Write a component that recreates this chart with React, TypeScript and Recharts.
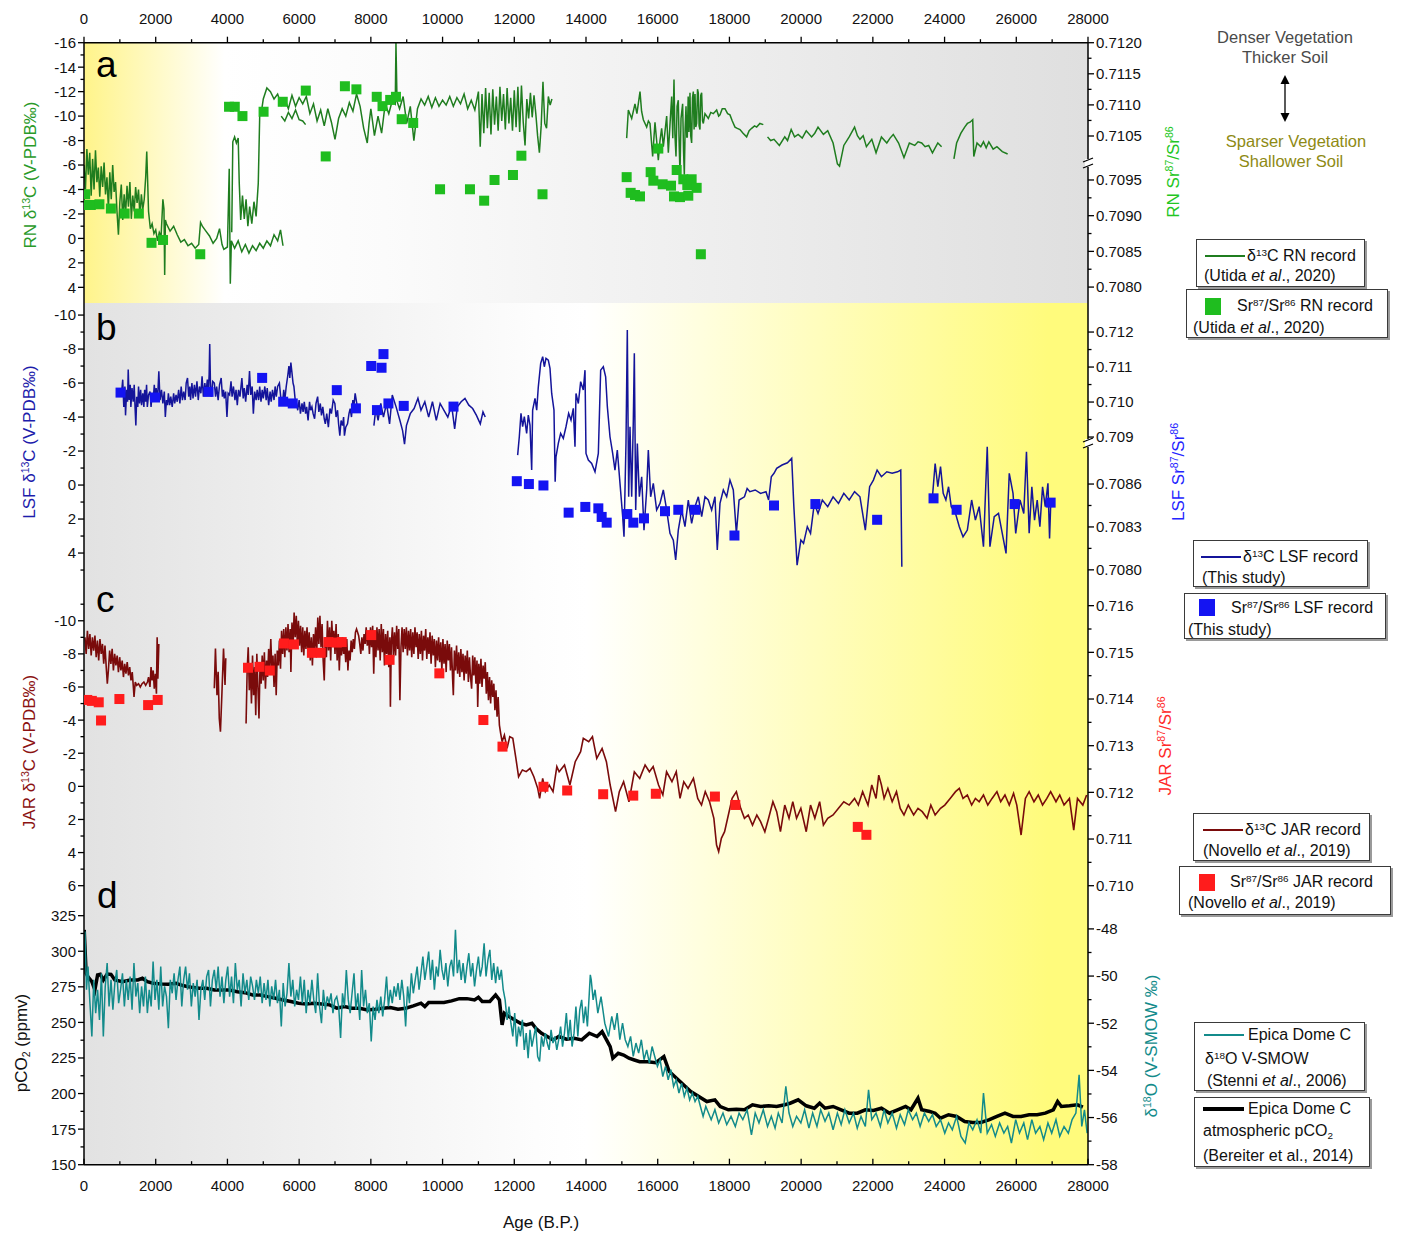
import React from "react";
import {
  ComposedChart,
  Line,
  Scatter,
  XAxis,
  YAxis,
  ReferenceArea,
  ReferenceDot,
} from "recharts";

type P = [number, number];

// ---------- data (age B.P., value) ----------
const ageMajors = [0, 2000, 4000, 6000, 8000, 10000, 12000, 14000, 16000, 18000, 20000, 22000, 24000, 26000, 28000];
const ageMinors = [1000, 3000, 5000, 7000, 9000, 11000, 13000, 15000, 17000, 19000, 21000, 23000, 25000, 27000];

// RN d13C (Utida et al., 2020)
const rnLow: P[] = [[0,-6.0],[40,-4.0],[80,-7.3],[120,-5.2],[160,-7.0],[200,-3.5],[240,-6.5],[280,-4.0],[320,-7.2],[360,-4.6],[400,-5.8],[440,-3.4],[480,-5.9],[520,-4.2],[560,-6.2],[600,-3.6],[640,-5.0],[680,-2.5],[720,-5.4],[760,-3.2],[800,-6.0],[840,-3.8],[880,-4.6],[920,-2.2],[960,-0.3],[1000,-3.0],[1040,-4.4],[1080,-1.5],[1120,-3.6],[1160,-2.0],[1200,-4.3],[1240,-2.6],[1280,-4.6],[1320,-1.6],[1360,-3.5],[1400,-2.2],[1440,-4.2],[1480,-2.9],[1520,-4.0],[1560,-1.8],[1600,-3.6],[1640,-2.4],[1680,-3.2],[1720,-5.0],[1750,-7.1],[1780,-4.2],[1800,-2.2],[1850,-0.8],[1900,-1.2],[1950,-0.4],[2000,-0.7],[2050,0.2],[2100,-0.5],[2150,-0.2],[2200,-3.2],[2230,-2.4],[2250,3.0],[2270,-1.5],[2300,-1.2],[2400,-0.6],[2500,-1.0],[2600,-0.3],[2700,0.3],[2800,0.1],[2900,0.6],[3000,0.4],[3100,0.8],[3200,0.5],[3250,-1.3],[3300,-1.0],[3400,-0.6],[3500,-0.2],[3600,0.4],[3700,0.0],[3780,-0.8],[3850,0.5],[3900,0.9],[4000,0.7],[4050,-5.7],[4080,3.7],[4110,0.2],[4200,0.8],[4300,0.2],[4400,1.1],[4500,0.5],[4600,1.2],[4700,0.6],[4800,1.0],[4900,0.4],[5000,0.8],[5100,0.2],[5200,0.6],[5300,-0.3],[5400,0.2],[5480,-0.7],[5550,0.6]];
const rnHigh: P[] = [[4120,-0.5],[4150,-7.9],[4200,-8.3],[4250,-7.8],[4300,-8.2],[4330,-4.5],[4370,-1.5],[4420,-3.5],[4470,-1.6],[4520,-3.2],[4570,-1.0],[4620,-2.6],[4680,-1.2],[4740,-3.0],[4800,-1.8],[4860,-4.5],[4900,-10.0],[4950,-10.4],[5000,-11.4],[5100,-12.3],[5200,-12.0],[5300,-11.4],[5400,-11.8],[5500,-10.9],[5600,-11.4],[5700,-10.6],[5800,-11.7],[5900,-10.8],[6000,-11.5],[6100,-11.0],[6200,-11.6],[6300,-10.2],[6400,-11.0],[6500,-9.6],[6600,-10.5],[6700,-9.2],[6800,-10.6],[6900,-9.5],[7000,-8.1],[7100,-9.8],[7200,-10.6],[7300,-10.0],[7400,-11.1],[7500,-10.4],[7600,-11.8],[7700,-10.8],[7800,-9.0],[7900,-7.8],[7950,-9.4],[8000,-10.6],[8100,-8.4],[8200,-10.0],[8300,-8.6],[8400,-11.0],[8500,-10.2],[8600,-11.3],[8680,-11.0],[8700,-16.0],[8730,-11.2],[8800,-10.6],[8900,-11.6],[9000,-9.4],[9100,-10.8],[9200,-8.0],[9300,-10.6],[9400,-11.4],[9500,-10.9],[9600,-11.6],[9700,-10.7],[9800,-11.5],[9900,-10.8],[10000,-11.3],[10100,-10.9],[10200,-11.6],[10300,-10.8],[10400,-11.5],[10500,-11.0],[10600,-11.8],[10700,-10.6],[10800,-11.3],[10900,-10.5],[11000,-12.0],[11050,-7.5],[11100,-11.8],[11150,-8.6],[11200,-12.3],[11250,-9.0],[11300,-11.9],[11350,-8.5],[11400,-12.2],[11450,-9.3],[11500,-11.6],[11550,-8.8],[11600,-12.4],[11650,-9.6],[11700,-11.8],[11750,-8.9],[11800,-12.3],[11850,-9.4],[11900,-11.5],[11950,-8.8],[12000,-12.1],[12050,-9.1],[12100,-12.4],[12150,-8.7],[12200,-12.5],[12250,-9.5],[12300,-7.6],[12350,-11.4],[12400,-9.8],[12450,-11.9],[12500,-9.9],[12550,-11.7],[12600,-10.2],[12650,-8.4],[12700,-7.0],[12750,-9.2],[12800,-12.8],[12850,-9.4],[12900,-9.0],[12950,-11.6],[13000,-10.9],[13050,-11.4]];
const rnMid: P[] = [[5500,-10.0],[5600,-9.6],[5700,-10.3],[5800,-9.8],[5900,-10.5],[6000,-9.7],[6100,-9.6],[6180,-9.3]];
const rnGlacialA: P[] = [[15134,-8.2],[15181,-10.5],[15274,-9.8],[15366,-11.0],[15420,-10.2],[15506,-12.0],[15550,-10.4],[15599,-9.7],[15692,-9.1],[15740,-9.6],[15785,-9.4],[15859,-6.7],[15924,-9.5],[15970,-8.0],[16017,-6.4],[16064,-8.0],[16110,-9.0],[16157,-7.5],[16250,-10.0],[16296,-7.0],[16340,-9.2],[16389,-11.6],[16420,-8.2],[16454,-13.0],[16480,-8.5],[16510,-6.7],[16540,-10.8],[16574,-11.3],[16600,-7.5],[16621,-5.3],[16650,-9.8],[16695,-11.0],[16720,-7.2],[16742,-5.2],[16765,-9.0],[16789,-10.8],[16810,-8.3],[16825,-8.3],[16850,-11.6],[16870,-8.7],[16900,-11.9],[16920,-8.4],[16946,-7.8],[16970,-11.5],[16993,-12.0],[17015,-8.9],[17040,-11.8],[17062,-9.1],[17086,-9.4],[17110,-12.2],[17132,-11.9],[17155,-9.2],[17179,-8.9],[17200,-11.7],[17225,-11.9],[17250,-9.6],[17272,-9.4],[17318,-10.2],[17411,-9.8],[17480,-10.3],[17550,-10.2],[17644,-10.5],[17700,-10.0],[17737,-10.1],[17800,-10.6],[17876,-10.6],[17950,-10.2],[18015,-10.1],[18080,-9.6],[18155,-9.1],[18220,-9.0],[18294,-8.9],[18380,-8.6],[18480,-8.3],[18550,-8.8],[18620,-9.0],[18700,-9.2],[18759,-9.1],[18850,-9.4],[18945,-9.3]];
const rnGlacialB: P[] = [[19063,-8.3],[19150,-8.0],[19243,-8.1],[19393,-7.6],[19543,-8.3],[19620,-8.0],[19722,-8.9],[19817,-8.3],[19917,-8.5],[20030,-8.2],[20142,-8.8],[20292,-8.3],[20380,-8.6],[20471,-9.1],[20621,-8.5],[20741,-8.8],[20891,-7.8],[21011,-6.1],[21071,-5.9],[21190,-7.6],[21340,-8.3],[21490,-9.1],[21570,-8.4],[21640,-8.1],[21730,-8.4],[21820,-7.5],[21970,-8.1],[22089,-7.0],[22239,-8.3],[22389,-7.8],[22480,-8.2],[22569,-8.5],[22718,-7.8],[22868,-6.6],[23018,-7.8],[23168,-7.6],[23260,-7.9],[23362,-7.8],[23457,-7.5],[23557,-7.6],[23662,-7.0],[23812,-7.8],[23917,-7.5]];
const rnGlacialC: P[] = [[24261,-6.5],[24336,-7.8],[24456,-8.6],[24561,-9.1],[24636,-9.4],[24710,-9.5],[24785,-9.7],[24815,-6.7],[24905,-7.8],[25010,-7.5],[25085,-7.9],[25160,-7.4],[25235,-7.9],[25355,-7.3],[25460,-7.5],[25610,-7.1],[25759,-6.9]];
// RN Sr87/Sr86
const rnSr: P[] = [[32,0.7093],[40,0.70915],[190,0.70915],[430,0.70916],[750,0.7091],[1134,0.70903],[1530,0.70903],[1883,0.70862],[2204,0.70866],[3242,0.70846],[4045,0.71097],[4205,0.71097],[4419,0.71082],[5008,0.71089],[5543,0.71105],[6185,0.71123],[6741,0.70983],[7276,0.7113],[7597,0.71125],[8164,0.71113],[8325,0.71098],[8539,0.71108],[8700,0.71113],[8860,0.71077],[9181,0.71071],[9930,0.70937],[10764,0.70937],[11160,0.70921],[11449,0.7095],[11963,0.70957],[12198,0.70984],[12787,0.7093],[15134,0.70954],[15245,0.70932],[15366,0.70929],[15506,0.70927],[15803,0.70961],[15878,0.70949],[16017,0.70994],[16138,0.70944],[16371,0.70942],[16454,0.70927],[16529,0.70964],[16621,0.70926],[16714,0.70951],[16825,0.70943],[16853,0.70928],[16946,0.70951],[17086,0.70939],[17203,0.70846]];

// LSF d13C (this study)
const lsfA: P[] = [[1051,-5.5],[1080,-6.2],[1110,-4.6],[1140,-5.8],[1158,-4.1],[1190,-5.6],[1215,-4.9],[1233,-6.8],[1260,-5.0],[1290,-5.9],[1307,-4.6],[1340,-5.7],[1372,-4.9],[1400,-5.9],[1425,-4.5],[1446,-3.5],[1470,-5.2],[1500,-4.6],[1521,-5.8],[1550,-4.8],[1580,-5.6],[1606,-4.7],[1640,-5.4],[1670,-4.6],[1692,-5.6],[1720,-4.9],[1745,-5.9],[1766,-4.6],[1800,-5.3],[1841,-5.5],[1870,-4.6],[1900,-5.4],[1927,-4.9],[1960,-5.9],[1990,-5.0],[2012,-5.7],[2050,-5.0],[2087,-6.7],[2120,-5.0],[2161,-5.6],[2200,-4.8],[2240,-5.5],[2268,-4.0],[2300,-5.0],[2330,-4.7],[2353,-5.4],[2390,-4.7],[2420,-5.2],[2460,-4.6],[2500,-5.4],[2530,-4.8],[2567,-5.3],[2600,-4.9],[2640,-5.6],[2674,-4.8],[2710,-5.8],[2745,-5.0],[2780,-5.5],[2820,-5.0],[2850,-6.0],[2887,-6.3],[2920,-5.2],[2950,-5.8],[2972,-5.0],[3010,-6.0],[3040,-5.1],[3079,-5.9],[3110,-5.2],[3150,-6.1],[3186,-5.0],[3220,-5.8],[3260,-5.4],[3293,-6.4],[3330,-5.2],[3370,-6.0],[3400,-5.4],[3440,-6.2],[3470,-5.5],[3490,-6.5],[3506,-8.3],[3530,-5.6],[3549,-5.2],[3590,-6.1],[3634,-6.0],[3670,-5.2],[3700,-5.8],[3741,-5.0],[3780,-5.9],[3826,-6.3],[3860,-5.2],[3890,-5.6],[3912,-5.1],[3950,-5.5],[3987,-4.0],[4020,-5.4],[4061,-5.3],[4100,-6.1],[4130,-5.2],[4168,-5.8],[4210,-5.0],[4240,-5.6],[4275,-4.7],[4310,-5.6],[4350,-5.2],[4403,-6.3],[4440,-5.1],[4470,-5.7],[4509,-4.9],[4550,-5.9],[4580,-5.3],[4616,-6.7],[4650,-5.3],[4690,-5.8],[4723,-4.2],[4760,-5.5],[4800,-5.0],[4830,-5.6],[4870,-5.0],[4900,-5.8],[4936,-4.9],[4970,-5.6],[5000,-5.1],[5043,-5.8],[5080,-5.0],[5110,-5.7],[5150,-4.7],[5190,-5.5],[5220,-4.9],[5257,-5.6],[5300,-5.0],[5330,-5.8],[5363,-5.2],[5400,-5.8],[5449,-6.0],[5490,-5.1],[5534,-4.7],[5570,-5.6],[5600,-5.0],[5640,-5.8],[5680,-6.4],[5715,-7.0],[5740,-6.3],[5769,-7.2],[5800,-6.6],[5830,-6.0],[5854,-5.8],[5890,-5.0],[5929,-4.8],[5960,-4.4],[6000,-5.0],[6036,-4.2],[6080,-4.8],[6110,-4.3],[6143,-4.9],[6180,-4.2],[6210,-4.6],[6249,-3.8],[6290,-4.9],[6320,-4.4],[6356,-4.6],[6390,-4.2],[6431,-3.9],[6470,-4.8],[6516,-5.2],[6550,-4.3],[6590,-4.8],[6623,-4.1],[6660,-4.6],[6700,-3.9],[6730,-3.6],[6770,-4.2],[6815,-3.4],[6860,-4.5],[6900,-4.2],[6950,-5.0],[6996,-4.8],[7030,-4.0],[7071,-4.4],[7100,-3.6],[7135,-2.9],[7170,-3.8],[7210,-3.5],[7240,-4.0],[7263,-2.9],[7300,-3.4],[7349,-3.6],[7390,-4.2],[7423,-4.5],[7460,-4.0],[7498,-5.0],[7530,-4.7],[7562,-5.4],[7600,-4.9],[7637,-4.4]];
const lsfB: P[] = [[8085,-3.5],[8138,-4.5],[8202,-3.8],[8277,-4.8],[8351,-4.0],[8437,-4.8],[8522,-3.6],[8597,-5.3],[8704,-4.6],[8811,-3.8],[8885,-3.2],[8939,-2.4],[8992,-3.5],[9099,-4.2],[9206,-4.5],[9313,-5.1],[9398,-4.4],[9505,-4.9],[9612,-4.0],[9718,-4.9],[9825,-3.8],[9932,-4.8],[10039,-4.4],[10146,-4.0],[10252,-4.7],[10337,-3.3],[10412,-4.6],[10518,-4.9],[10625,-5.1],[10732,-4.7],[10839,-4.5],[10945,-4.1],[11052,-3.6],[11127,-4.3],[11190,-4.0]];
const lsfC: P[] = [[12094,-1.76],[12140,-2.84],[12187,-4.22],[12233,-3.43],[12280,-4.02],[12345,-3.04],[12391,-4.12],[12438,-3.53],[12485,-0.88],[12512,-4.41],[12578,-5.1],[12625,-4.41],[12670,-5.78],[12736,-7.16],[12792,-7.55],[12838,-6.96],[12884,-7.45],[12949,-7.35],[12996,-6.86],[13043,-5.39],[13107,-4.41],[13140,-0.2],[13163,-1.66],[13228,-2.45],[13293,-3.04],[13367,-2.75],[13442,-3.43],[13516,-4.22],[13582,-3.82],[13646,-4.51],[13693,-2.25],[13721,-5.39],[13786,-4.8],[13851,-6.08],[13925,-5.59],[13972,-6.76],[14000,-1.86],[14065,-1.47],[14158,-1.27],[14251,-0.78],[14344,-1.86],[14409,-6.76],[14483,-6.96],[14548,-6.37],[14595,-4.61],[14669,-2.84],[14744,-1.86],[14808,-0.88],[14873,-2.06],[14948,-0.1],[15023,1.86],[15060,3.04],[15115,-2.45],[15152,-9.12],[15190,0.69],[15227,-3.43],[15274,0.69],[15320,-3.82],[15348,-7.75],[15386,1.47],[15432,-2.45],[15488,0.69],[15553,-0.49],[15617,2.65],[15692,0.29],[15738,-2.06],[15803,0.69],[15877,-0.1],[15970,1.47],[16063,1.08],[16156,0.29],[16250,1.47],[16342,2.84],[16435,3.24],[16501,4.41],[16574,2.65],[16668,1.47],[16760,2.45],[16853,0.88],[16946,2.25],[17040,1.27],[17132,0.69],[17226,1.86],[17318,0.69],[17411,0.88],[17504,1.47],[17597,0.69],[17661,3.82],[17737,1.08],[17830,0.29],[17923,0.69],[18015,-0.29],[18108,0.29],[18194,2.84],[18269,0.88],[18419,0.69],[18494,0.2],[18569,0.39],[18719,0.29],[18869,0.49],[19019,0.39],[19093,0.88],[19168,-0.49],[19243,-0.69],[19318,-0.98],[19468,-1.18],[19618,-1.31],[19737,-1.57],[19797,1.27],[19887,4.71],[19992,3.24],[20067,3.43],[20172,2.45],[20262,2.84],[20367,1.08],[20471,1.67],[20591,0.88],[20741,1.27],[20891,0.69],[21041,1.08],[21190,0.49],[21340,0.88],[21490,0.39],[21640,0.69],[21790,2.65],[21910,0.1],[22015,-0.29],[22119,-0.88],[22239,-0.49],[22389,-0.78],[22539,-0.69],[22689,-0.78],[22778,-0.88],[22808,4.8]];
const lsfD: P[] = [[23662,0.69],[23737,-1.27],[23812,0.1],[23887,-1.08],[23962,0.49],[24036,0.88],[24111,0.1],[24186,1.27],[24306,1.67],[24411,2.45],[24515,3.04],[24635,2.65],[24755,0.88],[24860,2.06],[24965,1.27],[25085,3.63],[25190,-2.25],[25265,3.63],[25385,1.86],[25504,1.67],[25609,2.84],[25714,4.02],[25804,-0.69],[25909,0.49],[25984,2.84],[26104,0.88],[26209,1.67],[26284,-1.96],[26359,2.84],[26434,0.1],[26509,2.06],[26583,0.88],[26658,2.45],[26733,0.1],[26808,1.27],[26883,-0.1],[26928,3.14],[26958,1.27]];
const lsfSr: P[] = [[1019,0.71027],[1980,0.71013],[3474,0.71029],[4968,0.71069],[5555,0.71001],[5822,0.70996],[7050,0.71034],[7583,0.70982],[8010,0.71103],[8170,0.70977],[8298,0.71098],[8352,0.71137],[8490,0.70996],[8917,0.70989],[10305,0.70987],[12070,0.70862],[12407,0.7086],[12813,0.70859],[13516,0.7084],[13981,0.70844],[14344,0.70843],[14437,0.70837],[14577,0.70833],[15152,0.70839],[15320,0.70833],[15617,0.70836],[16203,0.70841],[16574,0.70842],[17040,0.70842],[18140,0.70824],[19243,0.70845],[20397,0.70846],[22119,0.70835],[23692,0.7085],[24336,0.70842],[25954,0.70846],[26958,0.70847]];

// JAR d13C (Novello et al., 2019)
const jarA: P[] = [[27,-9.0],[60,-8.0],[95,-9.4],[130,-8.3],[165,-9.2],[200,-7.9],[235,-9.0],[270,-8.2],[305,-9.1],[340,-7.8],[375,-8.8],[410,-7.6],[445,-8.9],[480,-8.0],[515,-8.6],[550,-7.4],[585,-8.5],[620,-7.2],[650,-6.2],[680,-7.0],[715,-8.2],[750,-7.4],[785,-8.3],[820,-7.0],[855,-8.0],[890,-7.3],[925,-7.9],[960,-6.9],[995,-7.8],[1030,-7.0],[1065,-7.6],[1100,-6.6],[1135,-7.4],[1170,-6.8],[1205,-7.5],[1240,-6.7],[1275,-7.2],[1310,-6.4],[1345,-6.9],[1380,-5.9],[1395,-5.4],[1430,-6.3],[1470,-6.1],[1520,-6.2],[1570,-6.0],[1620,-6.2],[1670,-6.3],[1720,-6.1],[1770,-6.3],[1800,-6.6],[1840,-6.0],[1870,-7.2],[1900,-6.4],[1930,-7.0],[1960,-5.9],[1990,-6.8],[2020,-5.6],[2040,-9.0],[2060,-6.5],[2087,-8.6]];
const jarB: P[] = [[3634,-5.92],[3666,-8.33],[3709,-5.51],[3741,-6.92],[3773,-4.1],[3805,-3.3],[3848,-5.71],[3891,-8.33],[3933,-6.12],[3954,-7.73]];
const jarC: P[] = [[4520,-3.8],[4550,-7.0],[4580,-8.4],[4610,-5.8],[4640,-7.4],[4670,-5.0],[4700,-7.9],[4730,-5.5],[4760,-7.2],[4790,-4.3],[4820,-8.0],[4850,-6.0],[4880,-4.1],[4910,-7.4],[4940,-6.2],[4970,-7.9],[5000,-6.4],[5030,-8.1],[5060,-5.9],[5090,-7.6],[5120,-6.6],[5150,-8.3],[5180,-7.0],[5210,-8.9],[5240,-7.0],[5270,-7.9],[5300,-6.0],[5330,-8.0],[5360,-5.5],[5390,-8.2],[5420,-7.3],[5450,-8.8],[5480,-7.1],[5510,-9.4],[5540,-8.0],[5570,-9.5],[5600,-7.8],[5630,-9.6],[5660,-8.2],[5690,-9.8],[5720,-8.1],[5750,-9.5],[5770,-6.9],[5800,-9.9],[5830,-8.4],[5860,-10.5],[5890,-9.0],[5920,-10.3],[5950,-8.6],[5980,-10.0],[6010,-8.5],[6040,-9.7],[6070,-8.1],[6100,-9.6],[6130,-7.9],[6160,-9.4],[6190,-8.3],[6220,-9.6],[6250,-8.0],[6280,-9.3],[6310,-7.6],[6340,-9.0],[6370,-7.3],[6400,-9.2],[6430,-8.3],[6460,-9.6],[6490,-8.0],[6520,-10.2],[6550,-8.6],[6580,-10.3],[6610,-8.4],[6640,-9.8],[6670,-7.6],[6700,-6.4],[6730,-9.0],[6760,-7.8],[6790,-10.0],[6820,-8.2],[6850,-9.6],[6880,-7.6],[6910,-10.0],[6940,-8.6],[6970,-9.4],[7000,-8.0],[7030,-9.8],[7060,-7.6],[7090,-9.2],[7120,-7.0],[7150,-8.8],[7180,-7.9],[7210,-9.0],[7240,-8.0],[7270,-8.6],[7300,-7.5],[7330,-8.9],[7360,-7.0],[7390,-8.2],[7420,-7.6],[7450,-8.8],[7480,-8.1],[7510,-8.9],[7540,-8.3],[7570,-9.3],[7600,-9.5],[7630,-9.3],[7660,-9.1],[7690,-8.6],[7720,-8.0],[7750,-9.0],[7780,-8.2],[7810,-9.2],[7840,-8.6],[7870,-9.6],[7900,-8.5],[7930,-9.4],[7960,-8.0],[7990,-9.6],[8020,-8.4],[8050,-9.7],[8080,-6.8],[8110,-9.4],[8140,-7.8],[8170,-9.6],[8200,-8.2],[8230,-9.5],[8260,-7.6],[8290,-9.8],[8320,-8.1],[8350,-9.5],[8380,-7.3],[8410,-9.2],[8440,-8.0],[8470,-9.4],[8500,-7.2],[8530,-9.0],[8545,-4.8],[8570,-8.6],[8600,-9.6],[8630,-7.8],[8660,-9.3],[8690,-7.9],[8720,-9.7],[8750,-8.3],[8780,-9.5],[8810,-5.2],[8840,-8.4],[8870,-9.6],[8900,-8.1],[8930,-9.5],[8960,-8.3],[8990,-9.6],[9020,-7.9],[9050,-9.4],[9080,-8.2],[9110,-9.5],[9140,-7.8],[9170,-9.3],[9200,-8.0],[9230,-9.6],[9260,-8.4],[9290,-9.3],[9320,-7.7],[9350,-9.2],[9380,-8.0],[9410,-9.4],[9440,-7.6],[9470,-9.1],[9500,-8.2],[9530,-9.5],[9560,-7.7],[9590,-9.0],[9620,-8.0],[9650,-9.3],[9680,-7.4],[9710,-9.1],[9740,-7.9],[9770,-8.9],[9800,-7.2],[9830,-8.8],[9860,-7.6],[9890,-9.0],[9920,-7.5],[9950,-8.7],[9980,-7.0],[10010,-8.9],[10040,-7.4],[10070,-8.6],[10100,-6.9],[10130,-8.8],[10160,-7.6],[10190,-8.6],[10220,-7.0],[10250,-8.4],[10280,-6.5],[10300,-5.5],[10330,-8.2],[10360,-7.0],[10390,-8.5],[10420,-6.8],[10450,-8.1],[10480,-6.6],[10510,-8.3],[10540,-6.9],[10570,-8.0],[10600,-6.4],[10630,-7.9],[10660,-6.8],[10690,-8.2],[10720,-6.3],[10750,-7.8],[10780,-6.6],[10810,-5.9],[10840,-7.9],[10870,-6.7],[10900,-7.8],[10930,-6.2],[10960,-7.6],[10980,-4.8],[11010,-7.4],[11040,-6.2],[11070,-7.7],[11100,-6.0],[11130,-7.3],[11160,-6.5],[11190,-7.5],[11220,-5.6],[11250,-6.9],[11280,-5.2],[11310,-6.6],[11340,-5.0],[11370,-6.4],[11400,-5.4],[11430,-6.2],[11460,-4.6],[11490,-5.8],[11520,-4.2],[11550,-5.4],[11585,-3.7],[11620,-3.2],[11660,-2.7],[11724,-3.1],[11799,-2.29],[11874,-3.0],[11959,-2.9],[12045,-1.69],[12120,-0.58],[12226,-0.99],[12333,-0.89],[12440,-1.09],[12546,-0.58],[12653,0.12],[12707,0.72],[12792,-0.48],[12867,0.32],[12974,-0.08],[13081,0.32],[13187,-1.19],[13251,-0.88],[13401,-1.29],[13551,-0.08],[13700,-1.49],[13850,-2.09],[13925,-2.9],[14075,-2.7],[14180,-3.0],[14300,-1.69],[14449,-2.29],[14569,-1.49],[14674,-0.08],[14824,1.53],[14929,0.32],[15049,-0.28],[15198,0.93],[15348,-0.88],[15498,-0.48],[15648,-1.29],[15768,-0.88],[15873,-1.19],[16023,-0.08],[16143,0.52],[16247,-0.88],[16397,-0.28],[16517,-0.88],[16622,0.73],[16727,-0.28],[16846,0.12],[16996,-0.48],[17116,0.73],[17221,1.13],[17326,0.32],[17446,0.93],[17566,1.93],[17641,3.54],[17700,3.94],[17775,3.14],[17865,2.74],[17970,1.73],[18075,0.73],[18194,0.32],[18314,1.33],[18419,1.93],[18524,1.73],[18644,2.34],[18764,1.73],[18869,2.13],[18988,2.74],[19093,1.93],[19213,0.93],[19318,1.53],[19423,2.74],[19543,1.13],[19662,1.93],[19767,0.93],[19872,1.93],[19992,1.33],[20142,2.74],[20262,1.13],[20382,1.93],[20516,0.93],[20621,2.34],[20741,1.93],[20891,1.73],[21041,1.33],[21190,0.93],[21340,1.13],[21490,0.73],[21595,1.13],[21715,0.32],[21790,0.73],[21865,1.13],[21970,-0.08],[22089,0.73],[22164,-0.68],[22239,-0.08],[22314,0.73],[22419,0.12],[22539,0.93],[22659,0.32],[22763,1.33],[22868,1.73],[22988,1.13],[23138,1.73],[23258,1.33],[23378,1.53],[23512,1.93],[23617,1.13],[23737,1.73],[23887,1.33],[24006,1.13],[24156,0.73],[24306,0.32],[24411,0.12],[24515,0.73],[24635,0.52],[24755,1.13],[24860,0.73],[24965,0.93],[25085,0.52],[25205,1.13],[25325,0.73],[25460,0.32],[25565,0.93],[25684,0.52],[25804,1.13],[25924,0.42],[26014,1.13],[26134,2.94],[26254,0.73],[26359,0.32],[26493,0.93],[26613,0.52],[26733,1.13],[26853,0.73],[26958,0.32],[27107,0.93],[27212,0.52],[27332,1.13],[27482,0.73],[27602,2.64],[27707,0.73],[27856,1.13],[27961,0.52]];
const jarSr: P[] = [[91,0.71398],[219,0.71396],[411,0.71393],[475,0.71354],[987,0.714],[1788,0.71387],[2055,0.71398],[4574,0.71467],[4894,0.71469],[5182,0.71461],[5577,0.71519],[5854,0.71517],[6356,0.71499],[6602,0.71499],[6815,0.71522],[7050,0.71521],[7188,0.71522],[8010,0.71537],[8522,0.71484],[9910,0.71455],[11138,0.71355],[11671,0.71298],[12813,0.71212],[13475,0.71204],[14479,0.71196],[15318,0.71193],[15947,0.71197],[17595,0.71191],[18164,0.71173],[21580,0.71126],[21820,0.71109]];

// Epica Dome C atmospheric pCO2 (Bereiter et al., 2014)
const pco2: P[] = [[6,315],[59,284.5],[112,282],[219,278.6],[304,272.8],[379,283.3],[454,283.8],[539,279.8],[646,284],[753,283.8],[860,279.8],[1073,278.6],[1286,279.8],[1500,279.8],[1628,281],[1767,278.6],[1927,277.5],[2141,277],[2353,276.8],[2567,277.5],[2780,275.7],[2994,274.7],[3207,274],[3421,274],[3634,272.8],[3848,272.8],[4061,272.8],[4275,271.6],[4488,270.9],[4702,269.3],[4915,269.3],[5129,268.1],[5342,267],[5555,265.8],[5769,264.7],[5982,263.5],[6196,263],[6409,263.5],[6623,263],[6836,262.4],[7049,260],[7263,261.1],[7476,260],[7690,260],[7903,258.8],[8117,259.3],[8330,260],[8543,260.5],[8757,259.3],[8971,260],[9184,261.6],[9398,263.5],[9505,261.1],[9612,264],[9825,264],[10039,264],[10252,265.1],[10466,266.7],[10679,266.7],[10892,265.8],[10999,267.6],[11105,264.7],[11318,264.7],[11479,269.3],[11585,265.8],[11660,248.3],[11724,256.4],[11852,254.1],[12013,251.7],[12173,249.4],[12333,248.3],[12493,249.4],[12600,245.9],[12760,242.4],[12920,240.1],[13081,237.7],[13241,240.1],[13454,238.2],[13668,238.9],[13881,237.7],[14094,242.4],[14308,240.1],[14449,243.5],[14674,233],[14749,224.8],[14899,228.3],[15049,227.1],[15198,224.8],[15348,223.6],[15498,222.4],[15723,222.4],[15947,221.7],[16172,226],[16322,215.5],[16472,212],[16622,208.5],[16771,205],[16921,201.4],[17146,197.9],[17370,194.4],[17595,195.6],[17745,190.9],[17970,188.6],[18194,189],[18419,188.6],[18644,192.1],[18869,190.9],[19093,191.4],[19318,190.9],[19543,192.1],[19692,193.2],[19917,195.6],[20142,191.4],[20367,189.7],[20516,193.2],[20666,189.7],[20891,190.9],[21116,188.6],[21340,186.2],[21565,186.2],[21790,188.6],[22015,188.1],[22239,189.7],[22464,186.2],[22689,188.6],[22913,190.9],[23063,188.6],[23258,196.7],[23362,188.6],[23587,187.4],[23737,186.2],[23887,182.7],[24111,185.1],[24336,183.9],[24561,180.4],[24785,179.7],[25010,179.7],[25235,181.5],[25460,183.9],[25684,186.2],[25909,183.9],[26134,183.9],[26359,185.1],[26583,185.1],[26808,186.2],[27032,188.6],[27152,194.4],[27257,190.9],[27482,191.4],[27707,192.1],[27856,190.4]];

// Epica Dome C d18O V-SMOW (Stenni et al., 2006)
const d18o: P[] = [[27,-48.11],[70,-50.58],[112,-49.6],[166,-51.15],[219,-52.56],[272,-50.16],[326,-51.57],[379,-50.58],[432,-51.86],[486,-49.88],[539,-52.56],[592,-50.44],[646,-49.45],[699,-51.29],[753,-50.16],[806,-51.43],[860,-50.3],[913,-49.74],[966,-51.15],[1020,-50.58],[1073,-49.88],[1126,-51.29],[1180,-50.16],[1233,-51.01],[1286,-50.02],[1340,-51.43],[1393,-49.45],[1446,-50.87],[1500,-50.3],[1553,-51.57],[1606,-50.44],[1660,-51.29],[1713,-50.02],[1767,-51.57],[1820,-50.58],[1873,-51.29],[1927,-49.38],[1980,-51.01],[2033,-50.16],[2087,-51.43],[2140,-49.6],[2193,-51.29],[2247,-50.44],[2300,-50.87],[2353,-52.21],[2407,-50.16],[2460,-50.73],[2513,-49.88],[2567,-51.01],[2620,-50.16],[2674,-49.6],[2727,-51.29],[2780,-50.16],[2834,-49.6],[2887,-50.58],[2941,-49.88],[2994,-51.29],[3047,-50.3],[3100,-50.87],[3154,-50.16],[3207,-51.86],[3260,-50.58],[3314,-50.16],[3367,-51.01],[3421,-50.02],[3474,-49.74],[3527,-51.29],[3580,-50.16],[3634,-49.74],[3688,-50.58],[3741,-49.6],[3794,-50.87],[3848,-50.02],[3901,-51.15],[3955,-50.16],[4008,-49.6],[4061,-50.87],[4115,-50.02],[4168,-51.15],[4221,-49.45],[4275,-50.58],[4328,-50.16],[4381,-51.29],[4435,-49.88],[4488,-50.73],[4541,-50.16],[4595,-51.01],[4648,-50.02],[4702,-50.44],[4755,-51.01],[4808,-50.16],[4862,-50.73],[4915,-50.02],[4968,-51.15],[5022,-50.3],[5075,-51.01],[5129,-50.16],[5182,-51.29],[5235,-50.44],[5289,-51.01],[5342,-50.16],[5395,-51.15],[5449,-50.58],[5502,-52.14],[5555,-50.3],[5608,-51.29],[5662,-50.73],[5715,-49.45],[5769,-50.87],[5822,-50.16],[5876,-51.29],[5929,-50.58],[5982,-51.01],[6036,-50.02],[6089,-51.15],[6142,-50.16],[6196,-51.57],[6249,-50.58],[6302,-51.15],[6356,-50.16],[6409,-51.01],[6462,-51.57],[6516,-49.88],[6569,-51.29],[6623,-52.0],[6676,-50.58],[6730,-51.43],[6783,-50.87],[6836,-51.15],[6890,-50.73],[6943,-51.57],[6996,-51.01],[7049,-50.87],[7103,-51.29],[7156,-52.63],[7209,-50.73],[7263,-51.29],[7316,-49.74],[7370,-51.01],[7423,-51.57],[7476,-50.73],[7530,-49.88],[7583,-51.43],[7637,-50.73],[7690,-51.86],[7743,-49.74],[7797,-51.29],[7850,-50.58],[7903,-51.57],[7957,-51.15],[8010,-52.77],[8064,-51.29],[8117,-51.86],[8170,-51.01],[8223,-51.57],[8277,-50.87],[8330,-51.71],[8383,-51.01],[8437,-50.02],[8490,-51.29],[8543,-50.58],[8597,-51.15],[8650,-50.44],[8703,-50.87],[8757,-50.3],[8810,-51.01],[8864,-50.16],[8917,-50.87],[8970,-52.14],[9024,-50.44],[9077,-51.15],[9130,-49.88],[9184,-50.73],[9237,-50.16],[9291,-49.6],[9344,-50.58],[9398,-49.88],[9451,-49.17],[9505,-50.16],[9558,-49.6],[9612,-48.96],[9665,-50.16],[9718,-49.31],[9772,-50.58],[9825,-49.6],[9878,-50.02],[9932,-48.89],[9985,-49.74],[10039,-50.16],[10092,-49.45],[10146,-50.44],[10199,-49.6],[10252,-49.31],[10306,-50.02],[10359,-48.04],[10412,-49.88],[10466,-49.31],[10519,-50.16],[10572,-49.45],[10626,-50.3],[10679,-49.6],[10732,-49.03],[10786,-50.02],[10839,-49.45],[10892,-50.44],[10946,-49.74],[10999,-49.17],[11052,-50.02],[11105,-49.6],[11159,-48.61],[11212,-50.02],[11265,-49.31],[11319,-48.89],[11372,-50.16],[11425,-49.45],[11479,-50.3],[11532,-49.6],[11585,-50.16],[11639,-49.74],[11692,-50.58],[11745,-51.01],[11799,-51.86],[11852,-51.29],[11906,-52.0],[11959,-52.56],[12012,-51.57],[12066,-52.99],[12119,-52.14],[12172,-52.56],[12226,-51.86],[12279,-53.13],[12332,-52.42],[12386,-53.48],[12439,-52.28],[12492,-52.99],[12546,-52.56],[12599,-52.14],[12652,-53.41],[12706,-53.62],[12759,-52.56],[12812,-52.99],[12866,-52.42],[12919,-52.84],[12972,-53.13],[13026,-52.28],[13079,-52.84],[13132,-52.56],[13186,-53.13],[13239,-52.7],[13292,-52.14],[13346,-52.99],[13399,-52.42],[13452,-51.57],[13506,-52.7],[13559,-51.86],[13612,-52.99],[13666,-52.42],[13719,-51.29],[13772,-52.56],[13826,-51.43],[13879,-51.01],[13932,-52.0],[13986,-51.29],[14039,-52.14],[14092,-50.73],[14120,-49.95],[14146,-50.16],[14199,-51.01],[14252,-50.58],[14330,-51.57],[14419,-50.87],[14524,-52.0],[14629,-52.56],[14719,-51.71],[14794,-52.28],[14869,-51.57],[14944,-52.7],[15019,-52.0],[15094,-52.7],[15168,-52.99],[15243,-52.56],[15318,-53.41],[15393,-52.84],[15468,-53.27],[15543,-52.7],[15618,-53.55],[15693,-53.13],[15768,-53.69],[15843,-52.99],[15917,-53.41],[15992,-53.83],[16067,-53.55],[16142,-54.26],[16217,-53.83],[16292,-54.4],[16367,-53.97],[16442,-54.68],[16517,-54.4],[16592,-54.96],[16667,-54.54],[16741,-55.1],[16816,-54.75],[16891,-55.25],[16966,-54.96],[17041,-55.32],[17116,-55.1],[17191,-55.53],[17266,-55.95],[17341,-55.53],[17416,-55.81],[17491,-56.09],[17595,-55.67],[17700,-56.23],[17820,-55.81],[17925,-56.3],[18045,-55.95],[18164,-56.38],[18269,-55.81],[18374,-56.09],[18494,-55.67],[18614,-56.73],[18719,-55.81],[18824,-56.23],[18944,-55.67],[19063,-56.38],[19168,-55.95],[19273,-56.45],[19363,-55.81],[19468,-56.23],[19573,-54.68],[19662,-55.81],[19767,-56.38],[19872,-55.95],[19992,-56.23],[20097,-55.67],[20217,-56.45],[20321,-55.81],[20441,-56.38],[20546,-55.67],[20666,-56.16],[20771,-55.81],[20891,-56.52],[21011,-55.81],[21116,-56.3],[21220,-55.67],[21340,-56.23],[21460,-55.81],[21565,-56.45],[21670,-55.95],[21790,-56.38],[21880,-54.82],[21970,-56.09],[22089,-55.81],[22209,-56.38],[22314,-55.67],[22419,-56.23],[22539,-55.81],[22659,-56.45],[22763,-55.88],[22883,-56.3],[22988,-55.67],[23108,-56.09],[23213,-55.81],[23318,-56.38],[23437,-55.81],[23557,-56.16],[23662,-55.88],[23767,-56.38],[23887,-56.09],[24006,-56.66],[24111,-56.23],[24216,-56.52],[24336,-55.95],[24456,-56.8],[24575,-57.08],[24680,-56.23],[24785,-56.52],[24905,-56.09],[25010,-56.66],[25085,-54.96],[25190,-56.66],[25310,-56.3],[25415,-56.8],[25535,-56.23],[25654,-56.66],[25759,-56.38],[25864,-57.08],[25984,-56.09],[26089,-56.66],[26209,-56.23],[26314,-56.94],[26434,-56.09],[26539,-56.66],[26658,-56.38],[26763,-56.94],[26883,-56.23],[26988,-56.66],[27107,-56.09],[27212,-56.8],[27332,-56.38],[27452,-56.66],[27557,-56.09],[27662,-55.81],[27752,-54.19],[27826,-56.38],[27901,-55.67],[27976,-56.66]];

// ---------- axis tick values ----------
const aLeftTicks = [-16, -14, -12, -10, -8, -6, -4, -2, 0, 2, 4];
const aRightLow = [0.708, 0.7085, 0.709, 0.7095];
const aRightHigh = [0.7105, 0.711, 0.7115, 0.712];
const bLeftTicks = [-10, -8, -6, -4, -2, 0, 2, 4];
const bRightLow = [0.708, 0.7083, 0.7086];
const bRightHigh = [0.709, 0.71, 0.711, 0.712];
const cLeftTicks = [-10, -8, -6, -4, -2, 0, 2, 4, 6];
const cRightTicks = [0.71, 0.711, 0.712, 0.713, 0.714, 0.715, 0.716];
const dLeftTicks = [150, 175, 200, 225, 250, 275, 300, 325];
const dRightTicks = [-58, -56, -54, -52, -50, -48];

// ---------- helpers ----------
const FONT = "'Liberation Sans', Arial, Helvetica, sans-serif";
const W = 1403;
const LW = 84;
const RW = 315;

// broken Sr axes: upper segment is drawn at a different scale above the break
const brkA = (v: number) => (v < 0.71 ? v : 0.7095 + (44 + (v - 0.7105) * 62200) / 71400);
const brkB = (v: number) => (v < 0.7088 ? v : 0.7096629 - (0.712 - v) * 0.24476);

const pts = (a: P[], f: (v: number) => number = (v) => v) => a.map(([x, y]) => ({ x, y: f(y) }));

type TickDef = { v: number; label: string };
const withMinors = (majors: number[], fmt: (v: number) => string): TickDef[] => {
  const out: TickDef[] = [];
  majors.forEach((m, i) => {
    out.push({ v: m, label: fmt(m) });
    if (i < majors.length - 1) out.push({ v: (m + majors[i + 1]) / 2, label: "" });
  });
  return out;
};

const makeYTick = (side: "left" | "right", defs: TickDef[]) => (props: any) => {
  const { x, y, payload } = props;
  const d = defs.find((t) => Math.abs(t.v - payload.value) < 1e-9);
  const major = !!d && d.label !== "";
  const s = side === "left" ? -1 : 1;
  return (
    <g>
      <line x1={x} y1={y} x2={x + s * (major ? 6 : 3.5)} y2={y} stroke="#000" strokeWidth={1.3} />
      {major && (
        <text x={x + s * 8} y={y} dy="0.36em" textAnchor={side === "left" ? "end" : "start"} fontSize={15} fontFamily={FONT} fill="#111">
          {d!.label}
        </text>
      )}
    </g>
  );
};

const makeXTick = (side: "top" | "bottom") => (props: any) => {
  const { x, y, payload } = props;
  const major = ageMajors.includes(payload.value);
  return (
    <g>
      <line x1={x} y1={y} x2={x} y2={y - (major ? 6 : 3.5)} stroke="#000" strokeWidth={1.3} />
      {major && (
        <text x={x} y={side === "top" ? y - 19 : y + 26} textAnchor="middle" fontSize={15} fontFamily={FONT} fill="#111">
          {payload.value}
        </text>
      )}
    </g>
  );
};

const Square = (color: string) => (props: any) => {
  const { cx, cy } = props;
  if (cx == null || cy == null) return <g />;
  return <rect x={cx - 5} y={cy - 5} width={10} height={10} fill={color} />;
};

const BreakMark = (props: any) => {
  const { cx, cy } = props;
  return (
    <g>
      <rect x={cx - 3} y={cy - 4} width={6} height={8} fill="#fff" />
      <line x1={cx - 5} y1={cy - 1} x2={cx + 5} y2={cy - 5} stroke="#000" strokeWidth={1.3} />
      <line x1={cx - 5} y1={cy + 5} x2={cx + 5} y2={cy + 1} stroke="#000" strokeWidth={1.3} />
    </g>
  );
};

const axisLine = { stroke: "#000", strokeWidth: 1.5 };
const YELLOW = "#fffb7c";

const Grad = ({ id, stops }: { id: string; stops: [number, string][] }) => (
  <defs>
    <linearGradient id={id} x1="0" y1="0" x2="1" y2="0">
      {stops.map(([o, c], i) => (
        <stop key={i} offset={`${o * 100}%`} stopColor={c} />
      ))}
    </linearGradient>
  </defs>
);

const coolToWarm: [number, string][] = [
  [0, "#e2e2e2"],
  [0.45, "#fdfdfd"],
  [0.5, "#ffffff"],
  [0.96, YELLOW],
  [1, YELLOW],
];

const xTickDefs = [...ageMajors, ...ageMinors].sort((a, b) => a - b);

// ---------- text helpers (HTML overlays) ----------
const Txt = ({ x, cy, children, size = 16, color = "#111", anchor = "left" }: any) => (
  <div
    style={{
      position: "absolute",
      left: x,
      top: cy - size * 0.58,
      fontSize: size,
      lineHeight: `${size * 1.15}px`,
      color,
      whiteSpace: "nowrap",
      fontFamily: FONT,
      transform: anchor === "center" ? "translateX(-50%)" : undefined,
    }}
  >
    {children}
  </div>
);

const VTitle = ({ cx, cy, color, children, size = 17 }: any) => (
  <div
    style={{
      position: "absolute",
      left: cx,
      top: cy,
      transform: "translate(-50%, -50%) rotate(-90deg)",
      whiteSpace: "nowrap",
      fontSize: size,
      lineHeight: 1,
      color,
      fontFamily: FONT,
    }}
  >
    {children}
  </div>
);

const Sup = ({ children }: any) => <sup style={{ fontSize: "0.62em", lineHeight: 0, verticalAlign: "0.55em" }}>{children}</sup>;
const Sub = ({ children }: any) => <sub style={{ fontSize: "0.62em", lineHeight: 0, verticalAlign: "-0.3em" }}>{children}</sub>;

const Box = ({ l, t, r, b }: any) => (
  <div
    style={{
      position: "absolute",
      left: l,
      top: t,
      width: r - l,
      height: b - t,
      border: "1.5px solid #3a3a3a",
      boxShadow: "2px 2px 0 #9a9a9a",
      boxSizing: "border-box",
    }}
  />
);

const Panel = ({ top, height, children }: any) => (
  <div style={{ position: "absolute", left: 0, top, width: W, height }}>{children}</div>
);

export default function App() {
  const aRight = [
    ...withMinors(aRightLow, (v) => v.toFixed(4)),
    ...withMinors(aRightHigh, (v) => v.toFixed(4)).map((t) => ({ v: brkA(t.v), label: t.label })),
  ];
  const aLeft = withMinors(aLeftTicks, String);
  const bLeft = [...withMinors(bLeftTicks, String), { v: 5, label: "" }];
  const bRight = [
    ...withMinors(bRightLow, (v) => v.toFixed(4)),
    ...withMinors(bRightHigh, (v) => v.toFixed(3)).map((t) => ({ v: brkB(t.v), label: t.label })),
  ];
  const cLeft = [{ v: -11, label: "" }, ...withMinors(cLeftTicks, String)];
  const cRight = withMinors(cRightTicks, (v) => v.toFixed(3));
  const dLeft = withMinors(dLeftTicks, String);
  const dRight = withMinors(dRightTicks, String);

  const lineProps = { dot: false, activeDot: false, isAnimationActive: false, strokeWidth: 1.5, dataKey: "y", yAxisId: "l" } as const;

  return (
    <div style={{ position: "absolute", left: 0, top: 0, width: W, height: 1234, background: "#fff", overflow: "hidden", fontFamily: FONT }}>
      {/* panel a */}
      <Panel top={0} height={303}>
        <ComposedChart width={W} height={303} margin={{ top: 12.7, right: 0, bottom: 0, left: 0 }}>
          <Grad id="gA" stops={[[0, "#fff48a"], [0.14, "#ffffff"], [0.3, "#fbfbfb"], [1, "#dfdfdf"]]} />
          <XAxis type="number" dataKey="x" domain={[0, 28000]} allowDataOverflow orientation="top" height={30} ticks={xTickDefs} interval={0} tick={makeXTick("top")} tickLine={false} tickSize={0} tickMargin={0} axisLine={axisLine} />
          <YAxis yAxisId="l" type="number" dataKey="y" domain={[-16, 5.28]} reversed allowDataOverflow width={LW} ticks={aLeft.map((t) => t.v)} interval={0} tick={makeYTick("left", aLeft)} tickLine={false} tickSize={0} tickMargin={0} axisLine={axisLine} />
          <YAxis yAxisId="r" orientation="right" type="number" dataKey="y" domain={[0.707777, 0.711423]} allowDataOverflow width={RW} ticks={aRight.map((t) => t.v)} interval={0} tick={makeYTick("right", aRight)} tickLine={false} tickSize={0} tickMargin={0} axisLine={axisLine} />
          <ReferenceArea yAxisId="l" x1={0} x2={28000} y1={-16} y2={5.28} fill="url(#gA)" fillOpacity={1} stroke="none" ifOverflow="visible" />
          <Line {...lineProps} data={pts(rnLow)} stroke="#1f7d1f" />
          <Line {...lineProps} data={pts(rnMid)} stroke="#1f7d1f" />
          <Line {...lineProps} data={pts(rnHigh)} stroke="#1f7d1f" />
          <Line {...lineProps} data={pts(rnGlacialA)} stroke="#1f7d1f" />
          <Line {...lineProps} data={pts(rnGlacialB)} stroke="#1f7d1f" />
          <Line {...lineProps} data={pts(rnGlacialC)} stroke="#1f7d1f" />
          <Scatter yAxisId="r" data={pts(rnSr, brkA)} dataKey="y" shape={Square("#1fbd1f")} isAnimationActive={false} />
          <ReferenceDot yAxisId="r" x={28000} y={0.709738} r={0} shape={BreakMark} ifOverflow="visible" />
        </ComposedChart>
      </Panel>

      {/* panel b */}
      <Panel top={303} height={282}>
        <ComposedChart width={W} height={282} margin={{ top: 0, right: 0, bottom: 0, left: 0 }}>
          <Grad id="gB" stops={coolToWarm} />
          <XAxis type="number" dataKey="x" domain={[0, 28000]} allowDataOverflow hide />
          <YAxis yAxisId="l" type="number" dataKey="y" domain={[-10.71, 5.88]} reversed allowDataOverflow width={LW} ticks={bLeft.map((t) => t.v)} interval={0} tick={makeYTick("left", bLeft)} tickLine={false} tickSize={0} tickMargin={0} axisLine={axisLine} />
          <YAxis yAxisId="r" orientation="right" type="number" dataKey="y" domain={[0.707894, 0.709866]} allowDataOverflow width={RW} ticks={bRight.map((t) => t.v)} interval={0} tick={makeYTick("right", bRight)} tickLine={false} tickSize={0} tickMargin={0} axisLine={axisLine} />
          <ReferenceArea yAxisId="l" x1={0} x2={28000} y1={-10.71} y2={5.88} fill="url(#gB)" fillOpacity={1} stroke="none" ifOverflow="visible" />
          <Line {...lineProps} data={pts(lsfA)} stroke="#14149a" />
          <Line {...lineProps} data={pts(lsfB)} stroke="#14149a" />
          <Line {...lineProps} data={pts(lsfC)} stroke="#14149a" />
          <Line {...lineProps} data={pts(lsfD)} stroke="#14149a" />
          <Scatter yAxisId="r" data={pts(lsfSr, brkB)} dataKey="y" shape={Square("#1414f2")} isAnimationActive={false} />
          <ReferenceDot yAxisId="r" x={28000} y={0.708887} r={0} shape={BreakMark} ifOverflow="visible" />
        </ComposedChart>
      </Panel>

      {/* panel c (svg a little taller so the bottom tick labels are not cut) */}
      <Panel top={585} height={313}>
        <ComposedChart width={W} height={313} margin={{ top: 0, right: 0, bottom: 8, left: 0 }}>
          <Grad id="gC" stops={coolToWarm} />
          <XAxis type="number" dataKey="x" domain={[0, 28000]} allowDataOverflow hide />
          <YAxis yAxisId="l" type="number" dataKey="y" domain={[-12.16, 6.26]} reversed allowDataOverflow width={LW} ticks={cLeft.map((t) => t.v)} interval={0} tick={makeYTick("left", cLeft)} tickLine={false} tickSize={0} tickMargin={0} axisLine={axisLine} />
          <YAxis yAxisId="r" orientation="right" type="number" dataKey="y" domain={[0.709908, 0.716443]} allowDataOverflow width={RW} ticks={cRight.map((t) => t.v)} interval={0} tick={makeYTick("right", cRight)} tickLine={false} tickSize={0} tickMargin={0} axisLine={axisLine} />
          <ReferenceArea yAxisId="l" x1={0} x2={28000} y1={-12.16} y2={6.26} fill="url(#gC)" fillOpacity={1} stroke="none" ifOverflow="visible" />
          <Line {...lineProps} data={pts(jarA)} stroke="#7a0b0b" strokeWidth={1.6} />
          <Line {...lineProps} data={pts(jarB)} stroke="#7a0b0b" strokeWidth={1.6} />
          <Line {...lineProps} data={pts(jarC)} stroke="#7a0b0b" strokeWidth={1.6} />
          <Scatter yAxisId="r" data={pts(jarSr)} dataKey="y" shape={Square("#ff1c1c")} isAnimationActive={false} />
        </ComposedChart>
      </Panel>

      {/* panel d */}
      <Panel top={890} height={344}>
        <ComposedChart width={W} height={344} margin={{ top: 0, right: 0, bottom: 39.3, left: 0 }}>
          <Grad id="gD" stops={coolToWarm} />
          <XAxis type="number" dataKey="x" domain={[0, 28000]} allowDataOverflow height={30} ticks={xTickDefs} interval={0} tick={makeXTick("bottom")} tickLine={false} tickSize={0} tickMargin={0} axisLine={axisLine} />
          <YAxis yAxisId="l" type="number" dataKey="y" domain={[150, 343.05]} allowDataOverflow width={LW} ticks={dLeft.map((t) => t.v)} interval={0} tick={makeYTick("left", dLeft)} tickLine={false} tickSize={0} tickMargin={0} axisLine={axisLine} />
          <YAxis yAxisId="r" orientation="right" type="number" dataKey="y" domain={[-58, -46.35]} allowDataOverflow width={RW} ticks={dRight.map((t) => t.v)} interval={0} tick={makeYTick("right", dRight)} tickLine={false} tickSize={0} tickMargin={0} axisLine={axisLine} />
          <ReferenceArea yAxisId="l" x1={0} x2={28000} y1={150} y2={343.05} fill="url(#gD)" fillOpacity={1} stroke="none" ifOverflow="visible" />
          <Line {...lineProps} data={pts(pco2)} stroke="#000" strokeWidth={3.5} />
          <Line {...lineProps} yAxisId="r" data={pts(d18o)} stroke="#138b8b" />
        </ComposedChart>
      </Panel>

      {/* panel letters, arrow */}
      <svg width={W} height={1234} style={{ position: "absolute", left: 0, top: 0, pointerEvents: "none" }}>
        <g fontFamily={FONT} fontSize={37} fill="#000">
          <text x={96} y={77}>a</text>
          <text x={96} y={340}>b</text>
          <text x={96} y={612}>c</text>
          <text x={97} y={908}>d</text>
        </g>
        <line x1={1285} y1={80} x2={1285} y2={117} stroke="#000" strokeWidth={1.3} />
        <path d="M1285 75 L1280.5 84 L1289.5 84 Z" fill="#000" />
        <path d="M1285 122 L1280.5 113 L1289.5 113 Z" fill="#000" />
      </svg>

      {/* axis titles */}
      <VTitle cx={30} cy={175} color="#2a9a2a">RN δ<Sup>13</Sup>C (V-PDB‰)</VTitle>
      <VTitle cx={1173} cy={172} color="#22c622">RN Sr<Sup>87</Sup>/Sr<Sup>86</Sup></VTitle>
      <VTitle cx={29} cy={442} color="#1d1dab">LSF δ<Sup>13</Sup>C (V-PDB‰)</VTitle>
      <VTitle cx={1178} cy={472} color="#2424ff">LSF Sr<Sup>87</Sup>/Sr<Sup>86</Sup></VTitle>
      <VTitle cx={29} cy={752} color="#8b1212">JAR δ<Sup>13</Sup>C (V-PDB‰)</VTitle>
      <VTitle cx={1165} cy={746} color="#ff2a2a">JAR Sr<Sup>87</Sup>/Sr<Sup>86</Sup></VTitle>
      <VTitle cx={21} cy={1043} color="#111">pCO<Sub>2</Sub> (ppmv)</VTitle>
      <VTitle cx={1151} cy={1046} color="#138b8b">δ<Sup>18</Sup>O (V-SMOW ‰)</VTitle>
      <Txt x={541} cy={1223} size={17} anchor="center">Age (B.P.)</Txt>

      {/* annotation */}
      <Txt x={1285} cy={38} size={16.5} color="#4a4a4a" anchor="center">Denser Vegetation</Txt>
      <Txt x={1285} cy={58} size={16.5} color="#4a4a4a" anchor="center">Thicker Soil</Txt>
      <Txt x={1296} cy={142} size={16.5} color="#8e8a14" anchor="center">Sparser Vegetation</Txt>
      <Txt x={1291} cy={162} size={16.5} color="#8e8a14" anchor="center">Shallower Soil</Txt>

      {/* legends */}
      <Box l={1196} t={239} r={1365} b={287} />
      <div style={{ position: "absolute", left: 1205, top: 255, width: 40, height: 2, background: "#1f7d1f" }} />
      <Txt x={1247} cy={256}>δ<Sup>13</Sup>C RN record</Txt>
      <Txt x={1204} cy={276}>(Utida <i>et al</i>., 2020)</Txt>

      <Box l={1186} t={289} r={1388} b={338} />
      <div style={{ position: "absolute", left: 1205, top: 298, width: 16, height: 17, background: "#1fbd1f" }} />
      <Txt x={1237} cy={306}>Sr<Sup>87</Sup>/Sr<Sup>86</Sup> RN record</Txt>
      <Txt x={1193} cy={328}>(Utida <i>et al</i>., 2020)</Txt>

      <Box l={1193} t={540} r={1368} b={587} />
      <div style={{ position: "absolute", left: 1201, top: 556, width: 40, height: 2, background: "#14149a" }} />
      <Txt x={1243} cy={557}>δ<Sup>13</Sup>C LSF record</Txt>
      <Txt x={1202} cy={578}>(This study)</Txt>

      <Box l={1184} t={593} r={1386} b={639} />
      <div style={{ position: "absolute", left: 1199, top: 599, width: 16, height: 17, background: "#1414f2" }} />
      <Txt x={1231} cy={608}>Sr<Sup>87</Sup>/Sr<Sup>86</Sup> LSF record</Txt>
      <Txt x={1188} cy={630}>(This study)</Txt>

      <Box l={1193} t={813} r={1370} b={861} />
      <div style={{ position: "absolute", left: 1203, top: 829, width: 40, height: 2, background: "#7a0b0b" }} />
      <Txt x={1245} cy={830}>δ<Sup>13</Sup>C JAR record</Txt>
      <Txt x={1203} cy={851}>(Novello <i>et al</i>., 2019)</Txt>

      <Box l={1179} t={866} r={1391} b={915} />
      <div style={{ position: "absolute", left: 1199, top: 874, width: 16, height: 17, background: "#ff1c1c" }} />
      <Txt x={1230} cy={882}>Sr<Sup>87</Sup>/Sr<Sup>86</Sup> JAR record</Txt>
      <Txt x={1188} cy={903}>(Novello <i>et al</i>., 2019)</Txt>

      <Box l={1194} t={1022} r={1365} b={1091} />
      <div style={{ position: "absolute", left: 1204, top: 1034, width: 40, height: 2, background: "#138b8b" }} />
      <Txt x={1248} cy={1035}>Epica Dome C</Txt>
      <Txt x={1205} cy={1059}>δ<Sup>18</Sup>O V-SMOW</Txt>
      <Txt x={1207} cy={1081}>(Stenni <i>et al</i>., 2006)</Txt>

      <Box l={1194} t={1097} r={1370} b={1167} />
      <div style={{ position: "absolute", left: 1203, top: 1107, width: 41, height: 4, background: "#000" }} />
      <Txt x={1248} cy={1109}>Epica Dome C</Txt>
      <Txt x={1203} cy={1131}>atmospheric pCO<Sub>2</Sub></Txt>
      <Txt x={1203} cy={1156}>(Bereiter et al., 2014)</Txt>
    </div>
  );
}
